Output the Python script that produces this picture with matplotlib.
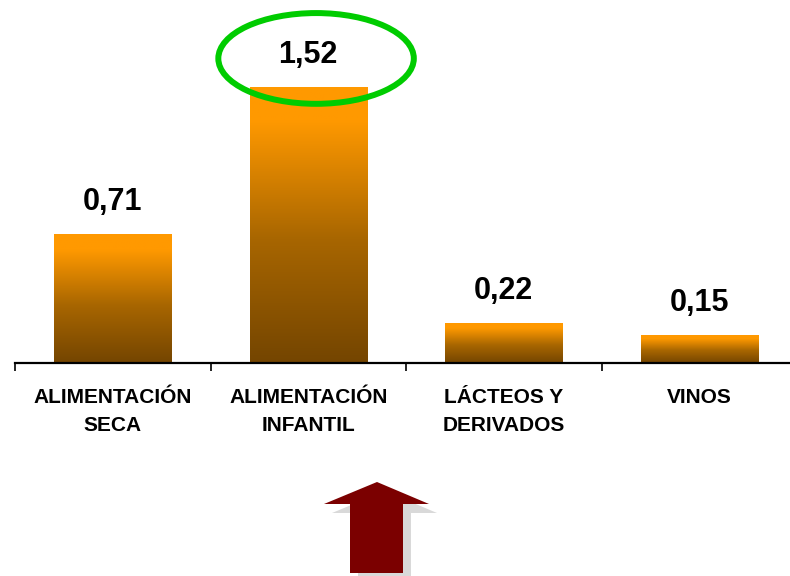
"""Bar chart: valores por categoría con degradado naranja"""
import numpy as np
import matplotlib as mpl
import matplotlib.pyplot as plt
from matplotlib.patches import Ellipse, Polygon
from matplotlib.colors import LinearSegmentedColormap

mpl.rcParams.update({
    "font.family": ["Liberation Sans", "DejaVu Sans"],
    "font.weight": "bold",
})

# ── Data ──
categories = ["ALIMENTACIÓN\nSECA", "ALIMENTACIÓN\nINFANTIL",
              "LÁCTEOS Y\nDERIVADOS", "VINOS"]
values = [0.71, 1.52, 0.22, 0.15]
value_labels = ["0,71", "1,52", "0,22", "0,15"]
highlight = 1  # index circled in green

W, H = 790, 576
fig = plt.figure(figsize=(W / 100, H / 100), dpi=100)
ax = fig.add_axes([15 / W, (H - 363) / H, 782 / W, 363 / H])

# orange -> brown gradient per bar
cmap = LinearSegmentedColormap.from_list(
    "bar", [(0, "#744500"), (0.45, "#A86600"), (0.88, "#FF9900"), (1, "#FF9900")])
grad = np.linspace(0, 1, 256).reshape(-1, 1)
bar_w = 0.6
for i, v in enumerate(values):
    ax.imshow(grad, cmap=cmap, origin="lower", aspect="auto",
              extent=(i - bar_w / 2, i + bar_w / 2, 0, v), zorder=2)
    ax.text(i, v + 0.178, value_labels[i], ha="center", va="center",
            fontsize=22, fontweight="bold", color="black", zorder=4)
ax.set_xlim(-0.5, 3.5)
ax.set_ylim(0, 2.0)

# green ellipse around the highlighted value
ax.add_patch(Ellipse((highlight + 0.04, values[highlight] + 0.158), 1.0, 0.50,
                     fill=False, edgecolor="#00CC00", linewidth=4.3,
                     zorder=5, clip_on=False))

# axis styling
for s in ["left", "top", "right"]:
    ax.spines[s].set_visible(False)
ax.spines["bottom"].set_linewidth(1.6)
ax.yaxis.set_visible(False)
ax.set_xticks(np.arange(-0.5, 3.6, 1.0))
ax.set_xticklabels([])
ax.tick_params(axis="x", length=6, width=1.2, direction="out")
for i, c in enumerate(categories):
    ax.text(i, -0.135, c, ha="center", va="top", fontsize=15,
            fontweight="bold", linespacing=1.62, clip_on=False)

# red arrow with shadow (figure pixel coords, y from top)
def arrow_pts(dx=0, dy=0):
    pts = [(377, 482), (429, 504), (403, 504), (403, 573),
           (350, 573), (350, 504), (324, 504)]
    return [((x + dx) / W, (H - (y + dy)) / H) for x, y in pts]

fig.patches.append(Polygon(arrow_pts(8, 9), closed=True, facecolor="#D9D9D9",
                           edgecolor="none", transform=fig.transFigure))
fig.patches.append(Polygon(arrow_pts(), closed=True, facecolor="#7B0000",
                           edgecolor="none", transform=fig.transFigure))

fig.savefig("out.png", dpi=100)
